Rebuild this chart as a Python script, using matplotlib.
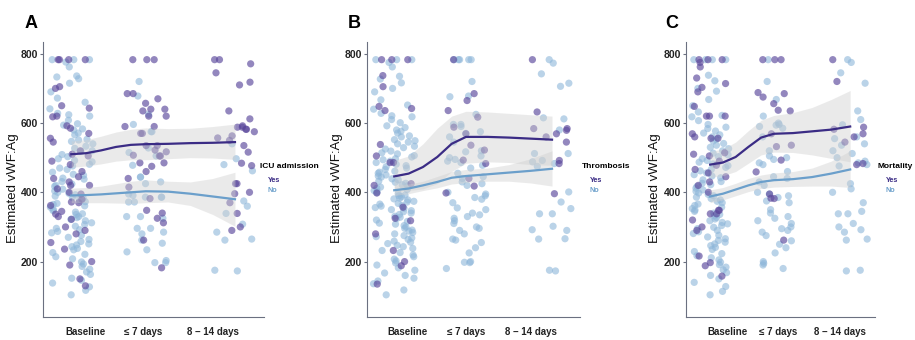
import matplotlib
matplotlib.use("Agg")
import matplotlib.pyplot as plt
import numpy as np

plt.rcParams['font.family'] = ['Liberation Sans', 'DejaVu Sans']

# time points (days) and line grid
time_days = [0, 5, 11]
line_days = [0, 1, 2, 3, 4, 5, 6.5, 8, 9.5, 11]
time_labels = ["Baseline", "\u2264 7 days", "8 \u2013 14 days"]

# ---- panel A: ICU admission ----
A_base_yes = [783, 783, 783, 783, 705, 700, 643, 650, 620, 618, 592, 585, 570, 556, 545, 520, 510, 505,
              490, 480, 460, 445, 440, 430, 420, 420, 410, 400, 395, 380, 372, 370, 362, 345, 337, 330,
              322, 300, 290, 280, 255, 236, 200, 190, 150, 130]
A_base_no = [783, 783, 783, 776, 762, 736, 733, 728, 715, 690, 672, 660, 641, 628, 624, 620, 608, 598, 594,
             583, 580, 571, 566, 553, 551, 547, 540, 533, 527, 520, 518, 509, 503, 497, 492, 488, 481, 476,
             470, 466, 458, 452, 449, 441, 438, 431, 424, 420, 417, 409, 404, 400, 397, 393, 389, 385, 383,
             377, 373, 368, 365, 361, 357, 350, 347, 343, 338, 336, 330, 327, 322, 318, 312, 307, 302, 296,
             292, 287, 283, 276, 270, 264, 258, 251, 248, 243, 238, 234, 226, 221, 214, 208, 199, 193, 186,
             178, 170, 163, 152, 146, 138, 127, 117, 104]
A_d7_yes = [783, 783, 783, 685, 670, 685, 657, 640, 640, 635, 620, 620, 590, 590, 570, 570, 535, 535, 522,
            507, 505, 505, 517, 485, 485, 475, 460, 440, 415, 382, 348, 340, 325, 312, 262, 182]
A_d7_no = [720, 678, 625, 596, 575, 575, 528, 515, 505, 478, 444, 444, 430, 425, 395, 391, 386, 386, 386,
           372, 372, 330, 330, 325, 296, 296, 285, 280, 262, 253, 234, 228, 203, 197, 197]
A_d14_yes = [783, 783, 771, 745, 718, 710, 635, 612, 592, 588, 588, 582, 582, 575, 563, 557, 550, 535, 516,
             484, 477, 425, 425, 400, 396, 370, 339, 300, 290]
A_d14_no = [540, 497, 480, 462, 375, 360, 339, 308, 285, 265, 262, 175, 173]
A_line_yes = [510, 513, 521, 531, 537, 539, 540, 542, 543, 545]
A_up_yes = [548, 552, 562, 574, 582, 586, 584, 585, 590, 597]
A_lo_yes = [472, 476, 482, 490, 494, 494, 497, 500, 499, 495]
A_line_no = [391, 392, 394, 397, 400, 403, 402, 396, 388, 380]
A_up_no = [412, 414, 418, 425, 432, 436, 432, 430, 440, 458]
A_lo_no = [370, 370, 370, 369, 368, 370, 372, 362, 336, 302]

# ---- panel B: Thrombosis ----
B_base_yes = [783, 783, 783, 737, 705, 648, 642, 636, 538, 505, 486, 486, 425, 420, 398, 357, 325, 318,
              280, 232, 200, 188, 135]
B_base_no = [783, 783, 783, 775, 762, 735, 727, 716, 700, 690, 667, 652, 640, 628, 621, 618, 610, 601, 592,
             587, 580, 576, 571, 563, 560, 552, 549, 545, 540, 533, 529, 525, 519, 514, 511, 506, 502, 497,
             494, 490, 486, 481, 477, 474, 470, 466, 461, 458, 455, 450, 447, 444, 439, 436, 432, 429, 426,
             422, 419, 415, 412, 408, 405, 402, 399, 396, 392, 390, 387, 383, 381, 378, 374, 372, 368, 366,
             362, 360, 356, 354, 350, 347, 344, 340, 336, 331, 328, 324, 320, 316, 311, 308, 304, 300, 296,
             291, 288, 284, 280, 275, 272, 268, 264, 259, 256, 252, 247, 243, 238, 232, 226, 219, 214, 207,
             202, 196, 190, 182, 175, 167, 160, 152, 144, 136, 118, 104]
B_d7_yes = [783, 685, 665, 636, 617, 588, 569, 536, 522, 493, 483, 440, 418, 398]
B_d7_no = [783, 783, 783, 783, 783, 720, 678, 676, 625, 596, 596, 590, 575, 570, 560, 545, 520, 517, 505,
           500, 495, 490, 486, 478, 470, 455, 445, 440, 430, 425, 420, 400, 395, 390, 385, 380, 370, 355,
           350, 340, 335, 330, 325, 318, 310, 300, 296, 290, 280, 265, 262, 255, 240, 225, 200, 198, 197, 180]
B_d14_yes = [783, 632, 584, 584, 579, 569, 560, 545, 492, 483, 396]
B_d14_no = [783, 773, 742, 715, 706, 612, 615, 580, 512, 512, 492, 488, 483, 475, 401, 372, 353, 338, 338,
            302, 292, 290, 266, 265, 175, 173]
B_line_yes = [446, 454, 473, 502, 540, 560, 560, 558, 555, 552]
B_up_yes = [492, 505, 540, 585, 620, 634, 632, 628, 624, 620]
B_lo_yes = [401, 405, 410, 425, 460, 484, 488, 486, 480, 478]
B_line_no = [406, 411, 420, 430, 442, 447, 452, 457, 462, 468]
B_up_no = [421, 424, 432, 446, 460, 466, 470, 480, 497, 520]
B_lo_no = [391, 396, 405, 413, 424, 428, 432, 432, 427, 418]

# ---- panel C: Mortality ----
C_base_yes = [783, 783, 783, 775, 762, 730, 714, 703, 690, 648, 620, 620, 620, 569, 560, 556, 556, 514, 510,
              505, 490, 478, 466, 456, 445, 430, 420, 400, 348, 348, 338, 338, 320, 300, 290, 216, 197, 188, 158]
C_base_no = [783, 783, 783, 783, 738, 722, 700, 692, 668, 650, 632, 622, 618, 607, 596, 588, 584, 577, 571,
             566, 560, 553, 548, 541, 536, 530, 526, 520, 513, 508, 503, 497, 492, 487, 482, 477, 472, 466,
             462, 456, 451, 447, 442, 436, 431, 426, 422, 417, 412, 407, 403, 398, 394, 390, 386, 382, 378,
             374, 370, 366, 362, 357, 353, 349, 345, 340, 336, 332, 327, 323, 318, 313, 309, 304, 299, 295,
             290, 286, 281, 276, 271, 266, 261, 256, 251, 246, 241, 235, 229, 223, 217, 211, 205, 198, 191,
             184, 176, 168, 160, 150, 140, 128, 114, 104]
C_d7_yes = [783, 783, 783, 688, 685, 675, 656, 637, 635, 569, 536, 532, 493, 459, 395, 383, 382, 262]
C_d7_no = [783, 720, 668, 620, 600, 596, 594, 590, 585, 560, 520, 505, 500, 495, 485, 480, 460, 445, 440,
           430, 420, 400, 395, 390, 385, 375, 370, 350, 340, 330, 325, 318, 310, 300, 295, 290, 285, 275,
           260, 250, 240, 225, 200, 195, 190, 180]
C_d14_yes = [783, 720, 588, 582, 569, 560, 545, 483, 480]
C_d14_no = [783, 775, 745, 715, 635, 610, 595, 560, 555, 540, 536, 520, 512, 500, 490, 485, 480, 476, 425,
            410, 400, 370, 345, 338, 338, 310, 300, 292, 285, 265, 262, 175, 173]
C_line_yes = [480, 486, 502, 531, 558, 569, 571, 576, 581, 590]
C_up_yes = [518, 525, 545, 578, 608, 622, 630, 645, 668, 694]
C_lo_yes = [443, 448, 460, 484, 508, 516, 515, 508, 498, 488]
C_line_no = [388, 396, 408, 420, 430, 435, 438, 444, 454, 466]
C_up_no = [407, 414, 426, 440, 450, 456, 460, 470, 490, 520]
C_lo_no = [370, 378, 390, 402, 411, 415, 417, 418, 418, 414]

YES_PT = '#5a479b'
NO_PT = '#8db6d9'
YES_LN = '#3b2c85'
NO_LN = '#6b9fcb'


def jitter(n, seed, width=1.45):
    # fixed, hash-like horizontal spread around the time point (position only)
    i = np.arange(1, n + 1) + seed
    k = np.abs(np.sin(i * 12.9898) * 43758.5453) % 1.0
    return (k * 2 - 1) * width


def draw_panel(ax, groups, lines, label_pos, letter, legend_title, fig_pos):
    seed = 0.0
    for day, yes_vals, no_vals in groups:
        ax.scatter(day + jitter(len(no_vals), seed), no_vals, s=27, color=NO_PT, alpha=0.6,
                   edgecolors='none', zorder=2)
        seed += 137
        ax.scatter(day + jitter(len(yes_vals), seed), yes_vals, s=27, color=YES_PT, alpha=0.65,
                   edgecolors='none', zorder=3)
        seed += 211
    for vals, up, lo, col in lines:
        ax.fill_between(line_days, lo, up, color='#cfcfcf', alpha=0.42, lw=0, zorder=4)
        ax.plot(line_days, vals, color=col, lw=1.6, zorder=5)

    ax.set_xlim(-1.9, 12.95)
    ax.set_ylim(40, 834)
    ax.set_yticks([200, 400, 600, 800])
    ax.set_xticks(label_pos)
    ax.set_xticklabels(time_labels)
    ax.tick_params(axis='both', labelsize=7.5, colors='#6b7080', labelcolor='#222222')
    ax.tick_params(axis='x', length=0, pad=7.5, labelsize=7)
    ax.tick_params(axis='y', length=2, width=0.8, pad=1.5)
    for t in ax.get_xticklabels() + ax.get_yticklabels():
        t.set_fontweight('bold')
    for s in ['top', 'right']:
        ax.spines[s].set_visible(False)
    for s in ['left', 'bottom']:
        ax.spines[s].set_color('#6b7080')
        ax.spines[s].set_linewidth(0.8)
    ax.set_ylabel("Estimated vWF:Ag", fontsize=9.5, color='#111111')

    x0, lx = fig_pos
    fig.text(x0 / 915, 1 - 28 / 340, letter, fontsize=13, fontweight='bold', va='baseline')
    fig.text(lx / 915, 1 - 167 / 340, legend_title, fontsize=6, fontweight='bold', va='center')
    fig.text((lx + 8) / 915, 1 - 181 / 340, "Yes", fontsize=5.2, fontweight='bold', color=YES_LN, va='center')
    fig.text((lx + 8) / 915, 1 - 191 / 340, "No", fontsize=5.2, fontweight='bold', color=NO_LN, va='center')


fig = plt.figure(figsize=(9.15, 3.4), dpi=100)
bottom, height = 23 / 340, 275 / 340
axA = fig.add_axes([43 / 915, bottom, 221 / 915, height])
axB = fig.add_axes([367 / 915, bottom, 213 / 915, height])
axC = fig.add_axes([686 / 915, bottom, 189 / 915, height])

draw_panel(axA,
           [(time_days[0], A_base_yes, A_base_no), (time_days[1], A_d7_yes, A_d7_no),
            (time_days[2], A_d14_yes, A_d14_no)],
           [(A_line_no, A_up_no, A_lo_no, NO_LN), (A_line_yes, A_up_yes, A_lo_yes, YES_LN)],
           [0.95, 4.8, 9.5], "A", "ICU admission", (25, 260))
draw_panel(axB,
           [(time_days[0], B_base_yes, B_base_no), (time_days[1], B_d7_yes, B_d7_no),
            (time_days[2], B_d14_yes, B_d14_no)],
           [(B_line_no, B_up_no, B_lo_no, NO_LN), (B_line_yes, B_up_yes, B_lo_yes, YES_LN)],
           [0.9, 5.0, 9.5], "B", "Thrombosis", (348, 582))
draw_panel(axC,
           [(time_days[0], C_base_yes, C_base_no), (time_days[1], C_d7_yes, C_d7_no),
            (time_days[2], C_d14_yes, C_d14_no)],
           [(C_line_no, C_up_no, C_lo_no, NO_LN), (C_line_yes, C_up_yes, C_lo_yes, YES_LN)],
           [1.35, 5.35, 10.2], "C", "Mortality", (665, 878))

# ylabel anchor is the right edge of the rotated text
axA.yaxis.set_label_coords(-0.109, 0.47)
axB.yaxis.set_label_coords(-0.113, 0.47)
axC.yaxis.set_label_coords(-0.132, 0.47)

fig.savefig("out.png", dpi=100, facecolor='white')
